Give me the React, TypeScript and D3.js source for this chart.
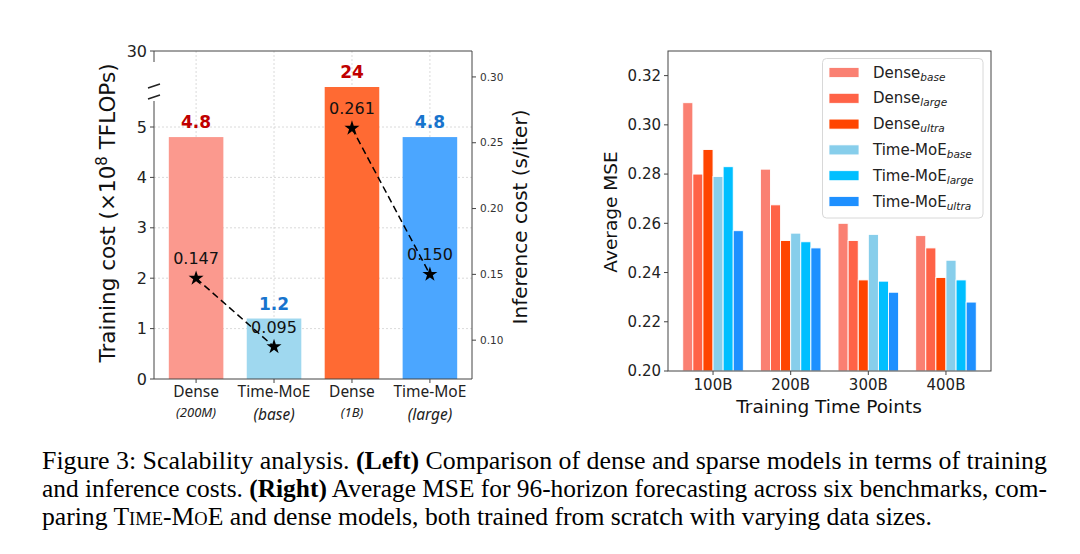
import React from "react";
import * as d3 from "d3";

// ---------- Left chart data ----------
const leftCats = ["Dense|(200M)", "Time-MoE|(base)", "Dense|(1B)", "Time-MoE|(large)"];
const trainCost = [4.8, 1.2, 24, 4.8];
const trainLabels = ["4.8", "1.2", "24", "4.8"];
const inferCost = [0.147, 0.095, 0.261, 0.15];
const inferLabels = ["0.147", "0.095", "0.261", "0.150"];
const leftBarColors = ["#FB998E", "#9FD8EF", "#FF6A33", "#4BA6FF"];
const leftLabelColors = ["#C00000", "#1874CD", "#C00000", "#1874CD"];
const leftTicks = [0, 1, 2, 3, 4, 5, 30];
const rightTicks = [0.1, 0.15, 0.2, 0.25, 0.3];

// ---------- Right chart data ----------
const timePoints = ["100B", "200B", "300B", "400B"];
const seriesNames = ["Dense", "Dense", "Dense", "Time-MoE", "Time-MoE", "Time-MoE"];
const seriesSubs = ["base", "large", "ultra", "base", "large", "ultra"];
const seriesColors = ["#FA8072", "#FF6347", "#FF4500", "#87CEEB", "#00BFFF", "#1E90FF"];
const denseBase = [0.309, 0.282, 0.26, 0.255];
const denseLarge = [0.28, 0.2675, 0.253, 0.25];
const denseUltra = [0.29, 0.253, 0.237, 0.238];
const moeBase = [0.279, 0.256, 0.2555, 0.245];
const moeLarge = [0.283, 0.2525, 0.2365, 0.237];
const moeUltra = [0.257, 0.25, 0.232, 0.228];
const mseSeries = [denseBase, denseLarge, denseUltra, moeBase, moeLarge, moeUltra];
const mseTicks = [0.2, 0.22, 0.24, 0.26, 0.28, 0.3, 0.32];

const SANS = "'DejaVu Sans', sans-serif";
const XSANS = "'Noto Sans', 'Open Sans', sans-serif";
const SERIF = "'Liberation Serif', 'Times New Roman', serif";

function LeftChart() {
  const L = 154, R = 472, T = 51, B = 379;
  const x = d3.scaleBand<string>().domain(leftCats).range([L, R]).paddingInner(0.3).paddingOuter(0.19);
  const y = d3.scaleLinear().domain([0, 5, 24, 30]).range([B, 127, 87, T]);
  const y2 = d3.scaleLinear().domain([0.0705, 0.3197]).range([B, T]);
  const cx = (c: string) => (x(c) as number) + x.bandwidth() / 2;
  const star = d3.symbol().type(d3.symbolStar).size(70)() as string;
  const pairs = [[0, 1], [2, 3]];
  return (
    <g>
      {leftTicks.filter((t) => t > 0 && t < 30).map((t) => (
        <line key={"gh" + t} x1={L} x2={R} y1={y(t)} y2={y(t)} stroke="#d0d0d0" strokeWidth={0.8} strokeDasharray="2,2" />
      ))}
      {leftCats.map((c) => (
        <line key={"gv" + c} x1={cx(c)} x2={cx(c)} y1={T} y2={B} stroke="#d0d0d0" strokeWidth={0.8} strokeDasharray="2,2" />
      ))}
      {leftCats.map((c, i) => (
        <rect key={"b" + c} x={x(c)} y={y(trainCost[i])} width={x.bandwidth()} height={B - y(trainCost[i])} fill={leftBarColors[i]} />
      ))}
      {leftCats.map((c, i) => (
        <text key={"bl" + c} x={cx(c)} y={y(trainCost[i]) - 9} textAnchor="middle" fontFamily={SANS} fontWeight="bold" fontSize={17} fill={leftLabelColors[i]}>
          {trainLabels[i]}
        </text>
      ))}
      {pairs.map(([a, b]) => (
        <line key={"dl" + a} x1={cx(leftCats[a])} y1={y2(inferCost[a])} x2={cx(leftCats[b])} y2={y2(inferCost[b])} stroke="#000" strokeWidth={1.5} strokeDasharray="7,4" />
      ))}
      {leftCats.map((c, i) => (
        <path key={"st" + c} d={star} transform={`translate(${cx(c)},${y2(inferCost[i])})`} fill="#000" />
      ))}
      {leftCats.map((c, i) => (
        <text key={"sl" + c} x={cx(c)} y={y2(inferCost[i]) - 14} textAnchor="middle" fontFamily={SANS} fontSize={16} fill="#111">
          {inferLabels[i]}
        </text>
      ))}
      <line x1={L} x2={R} y1={T} y2={T} stroke="#444" strokeWidth={1} />
      <line x1={L} x2={R} y1={B} y2={B} stroke="#444" strokeWidth={1} />
      <line x1={R} x2={R} y1={T} y2={B} stroke="#444" strokeWidth={1} />
      <line x1={L} x2={L} y1={T} y2={62} stroke="#444" strokeWidth={1} />
      <line x1={L} x2={L} y1={101} y2={B} stroke="#444" strokeWidth={1} />
      <line x1={148} x2={160} y1={88} y2={84} stroke="#222" strokeWidth={1.4} />
      <line x1={148} x2={160} y1={99} y2={95} stroke="#222" strokeWidth={1.4} />
      {leftTicks.map((t) => (
        <g key={"lt" + t}>
          <line x1={L - 4} x2={L} y1={y(t)} y2={y(t)} stroke="#444" />
          <text x={L - 7} y={y(t)} dy="0.35em" textAnchor="end" fontFamily={SANS} fontSize={16} fill="#222">{t}</text>
        </g>
      ))}
      {rightTicks.map((t) => (
        <g key={"rt" + t}>
          <line x1={R} x2={R + 4} y1={y2(t)} y2={y2(t)} stroke="#444" />
          <text x={R + 8} y={y2(t)} dy="0.35em" fontFamily={SANS} fontSize={10.5} fill="#333">{d3.format(".2f")(t)}</text>
        </g>
      ))}
      {leftCats.map((c) => {
        const [main, sub] = c.split("|");
        const small = sub === "(200M)" || sub === "(1B)";
        return (
          <g key={"xt" + c}>
            <line x1={cx(c)} x2={cx(c)} y1={B} y2={B + 4} stroke="#444" />
            <text x={cx(c)} y={397} textAnchor="middle" fontFamily={XSANS} fontSize={15.5} fill="#222">{main}</text>
            <text x={cx(c)} y={small ? 417 : 420} textAnchor="middle" fontFamily={XSANS} fontStyle="italic" fontSize={small ? 13 : 15.5} fill="#222">{sub}</text>
          </g>
        );
      })}
      <text transform={`translate(115,213) rotate(-90)`} textAnchor="middle" fontFamily={SANS} fontSize={21.5} fill="#111">
        Training cost (×10<tspan dy={-8} fontSize={15}>8</tspan><tspan dy={8}> TFLOPs)</tspan>
      </text>
      <text transform={`translate(527,217) rotate(-90)`} textAnchor="middle" fontFamily={SANS} fontSize={20} fill="#111">
        Inference cost (s/iter)
      </text>
    </g>
  );
}

function RightChart() {
  const L = 668, R = 991, T = 51, B = 371;
  const x = d3.scaleLinear().domain([-0.58, 3.58]).range([L, R]);
  const y = d3.scaleLinear().domain([0.2, 0.33]).range([B, T]);
  const bw = 0.13;
  return (
    <g>
      {mseSeries.map((vals, s) =>
        vals.map((v, g) => {
          const x0 = x(g + (s - 3) * bw);
          const x1 = x(g + (s - 2) * bw);
          return <rect key={`r${s}-${g}`} x={x0} y={y(v)} width={x1 - x0} height={B - y(v)} fill={seriesColors[s]} stroke="#fff" strokeWidth={0.9} />;
        })
      )}
      <rect x={L} y={T} width={R - L} height={B - T} fill="none" stroke="#444" strokeWidth={1} />
      {mseTicks.map((t) => (
        <g key={"mt" + t}>
          <line x1={L - 4} x2={L} y1={y(t)} y2={y(t)} stroke="#444" />
          <text x={L - 7} y={y(t)} dy="0.35em" textAnchor="end" fontFamily={SANS} fontSize={15} fill="#222">{d3.format(".2f")(t)}</text>
        </g>
      ))}
      {timePoints.map((tp, i) => (
        <g key={"tp" + tp}>
          <line x1={x(i)} x2={x(i)} y1={B} y2={B + 4} stroke="#444" />
          <text x={x(i)} y={B + 19} textAnchor="middle" fontFamily={SANS} fontSize={15} fill="#222">{tp}</text>
        </g>
      ))}
      <text x={829} y={413} textAnchor="middle" fontFamily={SANS} fontSize={18.5} fill="#111">Training Time Points</text>
      <text transform={`translate(617,212) rotate(-90)`} textAnchor="middle" fontFamily={SANS} fontSize={18.5} fill="#111">Average MSE</text>
      <rect x={822.5} y={58.5} width={160.5} height={159.5} rx={4} fill="#fff" fillOpacity={0.8} stroke="#d8d8d8" />
      {seriesNames.map((n, i) => {
        const cy = 72.5 + i * 25.8;
        return (
          <g key={"lg" + i}>
            <rect x={829} y={cy - 5} width={30} height={10} fill={seriesColors[i]} stroke="#fff" strokeWidth={0.8} />
            <text x={873} y={cy + 5} fontFamily={SANS} fontSize={15} fill="#222">
              {n}
              <tspan dy={3} fontSize={10.5} fontStyle="italic">{seriesSubs[i]}</tspan>
            </text>
          </g>
        );
      })}
    </g>
  );
}

function Caption() {
  const fs = 25;
  const sc = 18;
  return (
    <g fontFamily={SERIF} fontSize={fs} fill="#000">
      <text x={42} y={469} textLength={1005} lengthAdjust="spacingAndGlyphs">
        Figure 3: Scalability analysis. <tspan fontWeight="bold">(Left)</tspan> Comparison of dense and sparse models in terms of training
      </text>
      <text x={42} y={497} textLength={1005} lengthAdjust="spacingAndGlyphs">
        and inference costs. <tspan fontWeight="bold">(Right)</tspan> Average MSE for 96-horizon forecasting across six benchmarks, com-
      </text>
      <text x={42} y={525} textLength={890} lengthAdjust="spacingAndGlyphs">
        paring T<tspan fontSize={sc}>IME</tspan>-M<tspan fontSize={sc}>O</tspan>E and dense models, both trained from scratch with varying data sizes.
      </text>
    </g>
  );
}

export default function App() {
  return (
    <svg width={1080} height={554} style={{ position: "absolute", left: 0, top: 0, background: "#fff" }}>
      <rect width={1080} height={554} fill="#fff" />
      <LeftChart />
      <RightChart />
      <Caption />
    </svg>
  );
}
